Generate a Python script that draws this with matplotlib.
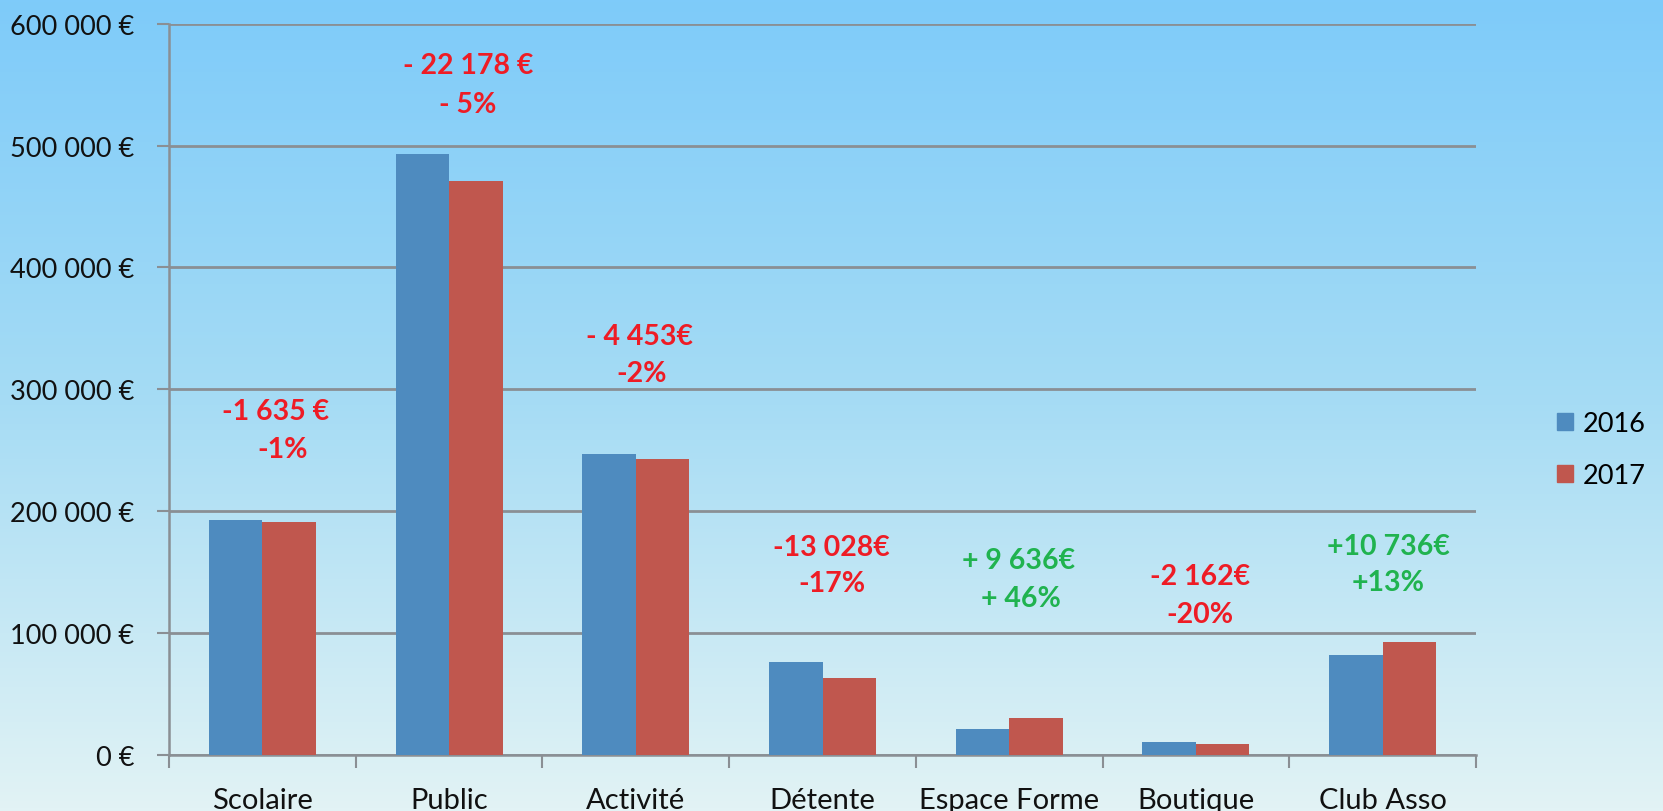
import numpy as np
import matplotlib
matplotlib.use("Agg")
import matplotlib.pyplot as plt
from matplotlib.colors import LinearSegmentedColormap
from matplotlib.patches import Patch

plt.rcParams["font.family"] = ["Lato", "DejaVu Sans"]

# data
categories = ["Scolaire", "Public", "Activité", "Détente", "Espace Forme", "Boutique", "Club Asso"]
ca_2016 = [193000, 493000, 247000, 76500, 20900, 10800, 82000]
ca_2017 = [191400, 471000, 242500, 63500, 30500, 8650, 92700]
ecart_euros = ["-1 635 €", "- 22 178 €", "- 4 453€", "-13 028€", "+ 9 636€", "-2 162€", "+10 736€"]
ecart_pct = ["-1%", "- 5%", "-2%", "-17%", "+ 46%", "-20%", "+13%"]
ecart_hausse = [False, False, False, False, True, False, True]
yticks = [0, 100000, 200000, 300000, 400000, 500000, 600000]
ytick_labels = ["0 €", "100 000 €", "200 000 €", "300 000 €", "400 000 €", "500 000 €", "600 000 €"]

# annotation placement (layout only)
label_dx1 = [0.07, 0.10, 0.02, 0.05, 0.05, 0.02, 0.03]
label_dx2 = [0.11, 0.10, 0.03, 0.05, 0.06, 0.02, 0.03]
label_y1 = [282000, 566000, 344000, 170500, 160000, 147000, 171500]
label_y2 = [251000, 534000, 313000, 141000, 129000, 116000, 142000]

BLUE = "#4e8bbf"
RED = "#c0574e"
GRID = "#8a8f94"

fig = plt.figure(figsize=(16.63, 8.12), dpi=100)

# gradient background
bg = fig.add_axes([0, 0, 1, 1], zorder=-10)
cmap = LinearSegmentedColormap.from_list(
    "bg", [(0.0, "#7ecbfa"), (0.5, "#a6dcf4"), (1.0, "#e2f3f5")]
)
bg.imshow(np.linspace(0, 1, 256).reshape(-1, 1), aspect="auto", cmap=cmap,
          extent=[0, 1, 0, 1])
bg.set_axis_off()

ax = fig.add_axes([0.1016, 0.069, 0.7860, 0.9006])
ax.set_facecolor("none")

x = np.arange(len(categories))
w = 0.2866
ax.bar(x - w / 2, ca_2016, w, color=BLUE, label="2016", zorder=3)
ax.bar(x + w / 2, ca_2017, w, color=RED, label="2017", zorder=3)

ax.set_xlim(-0.5, len(categories) - 0.5)
ax.set_ylim(0, 600000)
ax.set_yticks(yticks)
ax.set_yticklabels(ytick_labels, fontsize=19.5, color="#111111")
ax.yaxis.grid(True, color=GRID, linewidth=2, zorder=0)
ax.set_axisbelow(True)

ax.set_xticks(x)
ax.set_xticklabels(categories, fontsize=21, color="#111111")
ax.set_xticks(np.arange(-0.5, len(categories)), minor=True)
ax.tick_params(axis="x", which="major", length=0, pad=23)
ax.tick_params(axis="x", which="minor", length=9, width=1.5, color=GRID, direction="out")
ax.tick_params(axis="y", length=9, width=1.5, color=GRID, pad=16)

for side in ["top", "right"]:
    ax.spines[side].set_visible(False)
for side in ["left", "bottom"]:
    ax.spines[side].set_color(GRID)
    ax.spines[side].set_linewidth(1.8)

for i in range(len(categories)):
    col = "#20b34f" if ecart_hausse[i] else "#ee1c25"
    ax.text(x[i] + label_dx1[i], label_y1[i], ecart_euros[i], ha="center", va="center",
            fontsize=20.5, fontweight="bold", color=col, zorder=5)
    ax.text(x[i] + label_dx2[i], label_y2[i], ecart_pct[i], ha="center", va="center",
            fontsize=20.5, fontweight="bold", color=col, zorder=5)

handles = [Patch(color=BLUE, label="2016"), Patch(color=RED, label="2017")]
fig.legend(handles=handles, loc="center left", bbox_to_anchor=(0.936, 0.445),
           frameon=False, fontsize=19.5, handlelength=0.62, handleheight=0.62,
           handletextpad=0.36, labelspacing=1.0, borderpad=0, borderaxespad=0)

fig.savefig("out.png", dpi=100)
